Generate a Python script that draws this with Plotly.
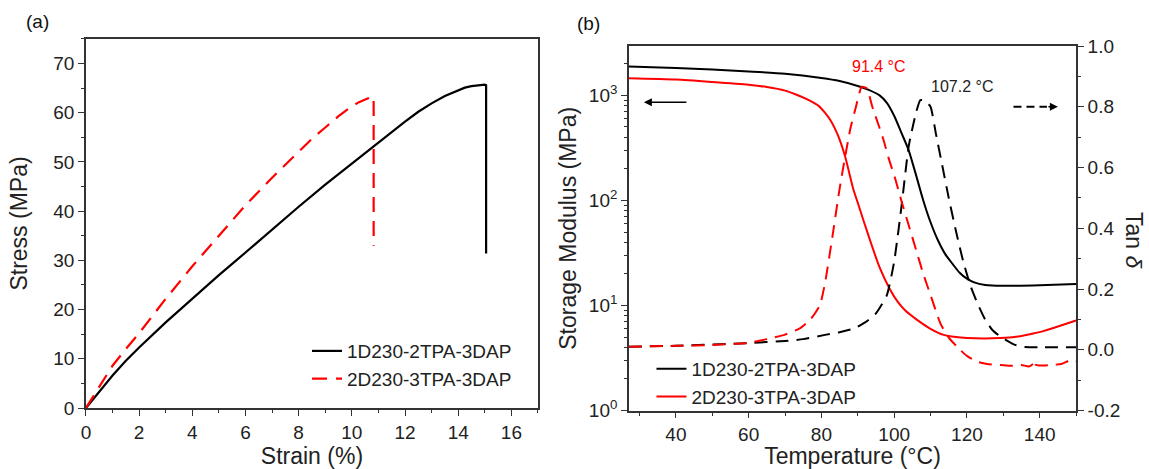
import plotly.graph_objects as go

# ---------------- Panel (a): stress-strain ----------------
series_names = ["1D230-2TPA-3DAP", "2D230-3TPA-3DAP"]

strain_1 = [0, 0.5, 1, 1.5, 2, 3, 4, 5, 6, 7, 8, 9, 10, 11, 11.5, 12, 12.5, 13, 13.5, 14, 14.25, 14.5,
            14.75, 15, 15.05, 15.05]
stress_1 = [0, 3.4, 6.6, 9.6, 12.3, 17.4, 22.3, 27.0, 31.6, 36.3, 40.9, 45.4, 49.7, 54.0, 56.2, 58.2, 60.2,
            61.9, 63.4, 64.6, 65.1, 65.4, 65.6, 65.7, 65.6, 31.4]

strain_2 = [0, 0.5, 1, 1.5, 2, 3, 4, 5, 6, 7, 8, 8.5, 9, 9.5, 10, 10.25, 10.5, 10.8, 10.82, 10.82]
stress_2 = [0, 4.4, 8.6, 12.0, 15.2, 22.2, 28.8, 35.0, 41.2, 46.8, 52.2, 54.7, 57.0, 59.3, 61.3, 62.1, 62.7,
            63.3, 63.0, 33.0]

# ---------------- Panel (b): DMA ----------------
temp_E1 = [27, 40, 50, 60, 70, 80, 85, 90, 93, 96, 98, 100, 102, 104, 106, 108, 110, 112, 114, 116, 118,
           120, 122, 125, 130, 140, 150]
modulus_1 = [1880, 1820, 1760, 1690, 1610, 1465, 1370, 1230, 1130, 1000, 850, 640, 440, 300, 175, 100, 62,
             42, 31, 25, 20.5, 18, 16.6, 15.7, 15.4, 15.6, 16]

temp_E2 = [27, 40, 50, 60, 65, 70, 73, 76, 79.4, 82.4, 84.5, 86.5, 88.8, 90, 92, 94, 96, 98.9, 101, 103,
           106.3, 110, 113.6, 117, 120, 125, 129.2, 133, 137, 141, 145, 150]
modulus_2 = [1455, 1413, 1340, 1260, 1200, 1110, 1020, 920, 786, 587, 420, 263, 127, 95, 58, 36, 23, 14.1,
             10.8, 9.0, 7.3, 6.0, 5.25, 5.0, 4.9, 4.85, 4.9, 5.0, 5.3, 5.7, 6.3, 7.2]

temp_tan1 = [27, 40, 60, 70, 75, 81, 85, 89, 92, 95, 98, 100, 102, 104, 106, 107.2, 108.5, 110, 111.5,
             113, 115, 117, 119, 121, 123, 125, 127, 129, 131, 133, 136, 140, 150]
tan_1 = [0.010, 0.013, 0.022, 0.029, 0.035, 0.049, 0.058, 0.07, 0.09, 0.12, 0.18, 0.29, 0.47, 0.67, 0.78,
         0.822, 0.82, 0.80, 0.71, 0.62, 0.50, 0.39, 0.29, 0.21, 0.15, 0.10, 0.065, 0.045, 0.03, 0.017,
         0.009, 0.008, 0.008]

temp_tan2 = [27, 40, 50, 60, 65, 70, 74, 77, 79.6, 81, 83, 85, 86.5, 88, 89.5, 91.1, 92.5, 94, 96, 97.1,
             98.5, 100.4, 102, 104, 106, 108, 110, 112.7, 115, 118.2, 120, 122.8, 126, 129.2, 132, 135,
             137, 138.3, 138.5, 138.7, 140, 143, 146, 148.5, 150]
tan_2 = [0.010, 0.013, 0.016, 0.023, 0.035, 0.050, 0.07, 0.10, 0.147, 0.22, 0.37, 0.53, 0.634, 0.73, 0.80,
         0.866, 0.86, 0.80, 0.73, 0.69, 0.63, 0.559, 0.49, 0.41, 0.33, 0.25, 0.18, 0.087, 0.04, -0.001,
         -0.02, -0.039, -0.048, -0.05, -0.053, -0.05, -0.055, -0.045, -0.035, -0.048, -0.052, -0.05,
         -0.047, -0.034, -0.038]

peak_labels = ["91.4 \u00b0C", "107.2 \u00b0C"]

log_ticks = [1, 10, 100, 1000]
log_ticktext = ["10<sup>0</sup>", "10<sup>1</sup>", "10<sup>2</sup>", "10<sup>3</sup>"]
tan_ticks = [-0.2, 0.0, 0.2, 0.4, 0.6, 0.8, 1.0]
tan_ticktext = ["-0.2", "0.0", "0.2", "0.4", "0.6", "0.8", "1.0"]

BLACK = "#000000"
RED = "#ff0000"
AX = "#333333"
FONT = "Liberation Sans, Arial, sans-serif"

fig = go.Figure()

# panel (a)
fig.add_trace(go.Scatter(x=strain_1, y=stress_1, mode="lines", name=series_names[0],
                         line=dict(color=BLACK, width=2.2),
                         xaxis="x", yaxis="y", legend="legend"))
fig.add_trace(go.Scatter(x=strain_2, y=stress_2, mode="lines", name=series_names[1],
                         line=dict(color=RED, width=2.2, dash="15px,9px"),
                         xaxis="x", yaxis="y", legend="legend"))

# panel (b)
fig.add_trace(go.Scatter(x=temp_E1, y=modulus_1, mode="lines", name=series_names[0],
                         line=dict(color=BLACK, width=2, shape="spline", smoothing=0.6),
                         xaxis="x2", yaxis="y2", legend="legend2"))
fig.add_trace(go.Scatter(x=temp_E2, y=modulus_2, mode="lines", name=series_names[1],
                         line=dict(color=RED, width=2, shape="spline", smoothing=0.6),
                         xaxis="x2", yaxis="y2", legend="legend2"))
fig.add_trace(go.Scatter(x=temp_tan1, y=tan_1, mode="lines", showlegend=False,
                         line=dict(color=BLACK, width=2, dash="13px,8px", shape="spline", smoothing=0.5),
                         xaxis="x2", yaxis="y3"))
fig.add_trace(go.Scatter(x=temp_tan2, y=tan_2, mode="lines", showlegend=False,
                         line=dict(color=RED, width=2, dash="13px,8px", shape="spline", smoothing=0.5),
                         xaxis="x2", yaxis="y3"))

tick_common = dict(ticks="outside", ticklen=6, tickwidth=1.3, tickcolor=AX, showline=True,
                   linecolor=AX, linewidth=1.5, showgrid=False, zeroline=False,
                   tickfont=dict(size=19, color="#222"))
minor_common = dict(ticks="outside", ticklen=3.5, tickwidth=1.3, tickcolor=AX)

fig.update_layout(
    width=1149, height=469,
    margin=dict(l=0, r=0, t=0, b=0),
    paper_bgcolor="white", plot_bgcolor="white",
    font=dict(family=FONT, color="#222", size=19),
    xaxis=dict(domain=[0.0748, 0.4682], anchor="y", range=[0, 17], tick0=0, dtick=2, mirror=True,
               minor=dict(dtick=1, **minor_common),
               title=dict(text="Strain (%)", font=dict(size=23), standoff=5), automargin=False,
               **tick_common),
    yaxis=dict(domain=[0.130, 0.917], anchor="x", range=[0, 75], tick0=0, dtick=10, mirror=True,
               minor=dict(dtick=5, **minor_common),
               title=dict(text="Stress (MPa)", font=dict(size=23), standoff=19), automargin=False,
               **tick_common),
    xaxis2=dict(domain=[0.5474, 0.9365], anchor="y2", range=[27.1, 150], tick0=0, dtick=20, mirror=True,
                minor=dict(dtick=10, **minor_common),
                title=dict(text="Temperature (\u00b0C)", font=dict(size=23), standoff=5), automargin=False,
                **tick_common),
    yaxis2=dict(domain=[0.1247, 0.9019], anchor="x2", type="log", range=[0, 3.47],
                tickmode="array", tickvals=log_ticks, ticktext=log_ticktext,
                minor=dict(tickmode="array",
                           tickvals=[m * d for d in (1, 10, 100, 1000) for m in range(2, 10)],
                           **minor_common),
                title=dict(text="Storage Modulus (MPa)", font=dict(size=23), standoff=6),
                automargin=False, **tick_common),
    yaxis3=dict(overlaying="y2", anchor="x2", side="right", range=[-0.2, 1.0],
                tickmode="array", tickvals=tan_ticks, ticktext=tan_ticktext,
                minor=dict(dtick=0.1, tick0=0, **minor_common), automargin=False, **tick_common),
    legend=dict(x=0.2672, y=0.292, xanchor="left", yanchor="top", bgcolor="rgba(0,0,0,0)",
                font=dict(size=19, color="#222"), tracegroupgap=0),
    legend2=dict(x=0.567, y=0.254, xanchor="left", yanchor="top", bgcolor="rgba(0,0,0,0)",
                 font=dict(size=19, color="#222"), tracegroupgap=0),
    showlegend=True,
)

# panel letters and right axis title
fig.add_annotation(text="(a)", xref="paper", yref="paper", x=37 / 1149, y=1 - 22 / 469,
                   xanchor="center", yanchor="middle", showarrow=False, font=dict(size=19, color="#111"))
fig.add_annotation(text="(b)", xref="paper", yref="paper", x=588 / 1149, y=1 - 23 / 469,
                   xanchor="center", yanchor="middle", showarrow=False, font=dict(size=19, color="#111"))
fig.add_annotation(text="Tan <i>\u03b4</i>", xref="paper", yref="paper", x=1134 / 1149, y=1 - 240 / 469,
                   xanchor="center", yanchor="middle", showarrow=False, textangle=90,
                   font=dict(size=23, color="#222"))

# peak labels
fig.add_annotation(text=peak_labels[0], xref="x2", yref="y3", x=95.9, y=0.934, showarrow=False,
                   font=dict(size=16, color=RED))
fig.add_annotation(text=peak_labels[1], xref="x2", yref="y3", x=118.6, y=0.866, showarrow=False,
                   font=dict(size=16, color="#222"))

# axis-indicating arrows
fig.add_annotation(text="", xref="x2", yref="y3", axref="x2", ayref="y3", x=31.2, y=0.815,
                   ax=43.3, ay=0.815, showarrow=True, arrowhead=2, arrowsize=1, arrowwidth=1.6,
                   arrowcolor=BLACK)
fig.add_shape(type="line", xref="x2", yref="y3", x0=132.8, x1=142.0, y0=0.80, y1=0.80,
              line=dict(color=BLACK, width=1.8, dash="8px,5px"))
fig.add_annotation(text="", xref="x2", yref="y3", axref="x2", ayref="y3", x=145.0, y=0.80,
                   ax=142.0, ay=0.80, showarrow=True, arrowhead=2, arrowsize=1, arrowwidth=1.6,
                   arrowcolor=BLACK)

fig.write_html("out.html", config={"displayModeBar": False},
               post_script="document.body.style.margin='0px';document.body.style.overflow='hidden';")
